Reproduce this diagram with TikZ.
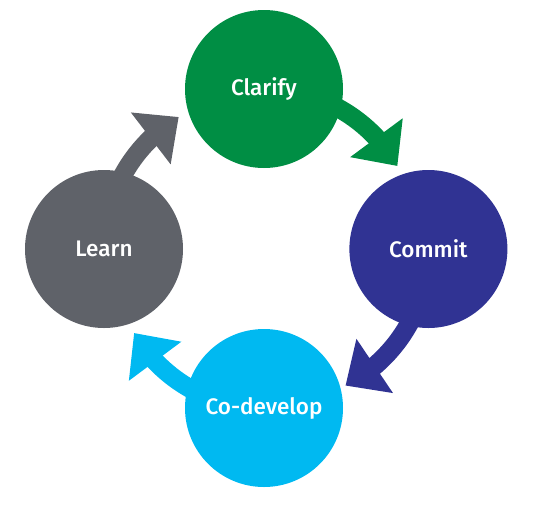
\documentclass[tikz,border=0pt]{standalone}
\usepackage{fontspec}
\setmainfont{Fira Sans}[BoldFont={Fira Sans Medium}]
\usepackage{tikz}
\usetikzlibrary{arrows.meta,bending,backgrounds,calc}
\usepackage{xcolor}
\definecolor{clarifyGreen}{RGB}{0,142,68}
\definecolor{commitBlue}{RGB}{48,51,147}
\definecolor{codevCyan}{RGB}{0,185,241}
\definecolor{learnGrey}{RGB}{95,98,105}
\tikzset{
    every node/.append style={align=center},
    phase/.style={circle,draw=none,minimum size=3.95cm,inner sep=0pt,text=white,
        font=\bfseries\fontsize{16}{19}\selectfont},
    flow/.style={line width=0.47cm,-{Triangle[length=0.88cm,width=1.58cm]}}
}
\begin{document}
\begin{tikzpicture}
    \useasboundingbox (-6.6,-6.525) rectangle (6.8,6.225);
    % the four phases round the cycle
    \node[phase,fill=clarifyGreen] (clarify)   at (0,    4.0)   {Clarify};
    \node[phase,fill=commitBlue]   (commit)    at (4.11, 0)     {Commit};
    \node[phase,fill=codevCyan]    (codevelop) at (0,   -3.975) {Co-develop};
    \node[phase,fill=learnGrey]    (learn)     at (-4.0, 0)     {Learn};

    % arrows run clockwise, tucked under the circles
    \begin{scope}[on background layer]
        \draw[flow,clarifyGreen] (clarify.center)   arc[start angle=90,  end angle=30,   radius=3.85];
        \draw[flow,commitBlue]   (commit.center)    arc[start angle=0,   end angle=-62.5,radius=3.85];
        \draw[flow,codevCyan]    (codevelop.center) arc[start angle=-90, end angle=-150, radius=3.75];
        \draw[flow,learnGrey]    (learn.center)     arc[start angle=180, end angle=121,  radius=3.85];
    \end{scope}
\end{tikzpicture}
\end{document}
